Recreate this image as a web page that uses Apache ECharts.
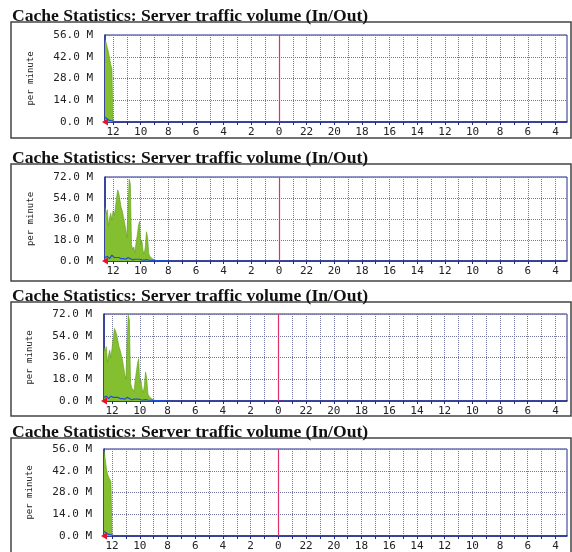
<!DOCTYPE html>
<html>
<head>
<meta charset="utf-8">
<script src="https://cdn.jsdelivr.net/npm/echarts@6/dist/echarts.min.js"></script>
<style>html,body{margin:0;padding:0;background:#fff}#c{width:572px;height:552px}</style>
</head>
<body>
<div id="c"></div>
<script>
// ---- data (values in M per minute, 5-minute samples, newest at left) ----
const titleText = 'Cache Statistics: Server traffic volume (In/Out)';
const yAxisName = 'per minute';
const yMax = [56, 72, 72, 56];
const yStep = [14, 18, 18, 14];
// time axis: left edge is 12:35, going back in time to 03:10 of previous day
const startHour = 36, startMinute = 35, endHour = 3, endMinute = 10, stepMinutes = 5;

const in1 = [53, 51, 48, 45, 41, 37, 34, 0];
const out1 = [3, 2, 2, 1.5, 1, 1, 0.8, 0.5, 0.4, 0.3, 0.2, 0];

const in2 = [46, 40, 44, 30, 37, 41, 35, 43, 39, 45, 54, 61, 58, 52, 46, 43, 38, 33, 27, 20,
             48, 70, 66, 14, 10, 12, 7, 16, 22, 30, 34, 14, 18, 9, 6, 12, 25, 20, 6, 4,
             3, 2, 1.5, 1, 0.8, 0];
const out2 = [3, 2, 4, 3, 2, 3, 5, 4, 3, 2, 3, 4, 3, 2, 2, 3, 2, 2, 1.5, 2,
              3, 2, 2, 1.5, 1, 1, 1.5, 2, 1.5, 1, 1.5, 1, 1, 1, 0.8, 1, 1.2, 1, 0.8, 0.6,
              0.6, 0.5, 0.5, 0.5, 0.4, 0.4, 0.3, 0.3, 0.3, 0.2, 0.2, 0.2, 0.1, 0.1, 0];

const in3 = [44, 41, 45, 32, 38, 42, 36, 44, 52, 60, 58, 55, 50, 45, 42, 38, 34, 28, 22, 18,
             50, 71, 67, 15, 11, 12, 8, 17, 24, 31, 35, 15, 17, 10, 7, 13, 24, 19, 6, 4,
             3, 2, 1.5, 1, 0.8, 0];
const out3 = [3, 2, 4, 3, 2, 3, 4, 4, 3, 2, 3, 4, 3, 2, 2, 3, 2, 2, 1.5, 2,
              3, 2, 2, 1.5, 1, 1, 1.5, 2, 1.5, 1, 1.5, 1, 1, 1, 0.8, 1, 1.2, 1, 0.8, 0.6,
              0.6, 0.5, 0.5, 0.5, 0.4, 0.4, 0.3, 0.3, 0.3, 0.2, 0.2, 0.2, 0.1, 0.1, 0];

const in4 = [55, 50, 44, 40, 38, 37, 35, 0];
const out4 = [3, 2, 2, 1.5, 1, 1, 0.8, 0.5, 0.4, 0.3, 0.2, 0];

const inSeries = [in1, in2, in3, in4];
const outSeries = [out1, out2, out3, out4];

// ---- build time categories ----
const categories = [];
for (let m = startHour * 60 + startMinute; m >= endHour * 60 + endMinute; m -= stepMinutes) {
  const h = Math.floor(m / 60), mm = m % 60;
  categories.push({ key: 'm' + m, hour: h % 24, minute: mm });
}
const catNames = categories.map(c => c.key);
const midnightIdx = categories.findIndex(c => c.hour === 0 && c.minute === 0);
const isHour = (i) => categories[i].minute === 0;
const isLabel = (i) => categories[i].minute === 0 && categories[i].hour % 2 === 0;

// ---- layout ----
const panels = [
  { top: 35, height: 87, left: 105, titleTop: 2, boxTop: 22, boxBottom: 138 },
  { top: 177, height: 84, left: 105, titleTop: 144, boxTop: 164, boxBottom: 281 },
  { top: 314, height: 87, left: 104, titleTop: 282, boxTop: 302, boxBottom: 416 },
  { top: 449, height: 87, left: 104, titleTop: 418, boxTop: 438, boxBottom: 560 }
];

const mono = 'DejaVu Sans Mono';
const navy = '#1e2a8c';
const green = '#84bf30';
const blue = '#1f4fd6';

const option = {
  animation: false,
  backgroundColor: '#ffffff',
  title: panels.map(p => ({
    text: titleText, left: 7, top: p.titleTop,
    textStyle: { fontFamily: 'Liberation Serif', fontWeight: 'bold', fontSize: 17.6, color: '#111' }
  })),
  graphic: panels.map(p => ({
    type: 'rect', silent: true,
    shape: { x: 11, y: p.boxTop, width: 560, height: p.boxBottom - p.boxTop },
    style: { fill: 'none', stroke: '#444', lineWidth: 1.5 }
  })),
  grid: panels.map(p => ({
    left: p.left, right: 5, top: p.top, height: p.height,
    show: true, borderColor: navy, borderWidth: 1, backgroundColor: '#fff'
  })),
  xAxis: panels.map((p, k) => ({
    type: 'category', gridIndex: k, data: catNames, boundaryGap: false,
    axisLine: { show: true, lineStyle: { color: navy, width: 1.5 } },
    axisTick: { show: true, inside: false, length: 3, interval: (i) => isHour(i), lineStyle: { color: navy } },
    axisLabel: {
      interval: (i) => isLabel(i),
      formatter: (v, i) => String(categories[i].hour),
      fontFamily: mono, fontSize: 11, color: '#222', margin: 5
    },
    splitLine: { show: true, interval: (i) => isHour(i), lineStyle: { color: '#7478a0', type: 'dotted', width: 1 } }
  })),
  yAxis: panels.map((p, k) => ({
    type: 'value', gridIndex: k, min: 0, max: yMax[k], interval: yStep[k],
    name: yAxisName, nameLocation: 'middle', nameRotate: 90, nameGap: 70,
    nameTextStyle: { fontFamily: mono, fontSize: 9, color: '#222' },
    axisLine: { show: true, lineStyle: { color: navy, width: 1.5 } },
    axisTick: { show: false },
    axisLabel: { formatter: v => v.toFixed(1) + ' M', fontFamily: mono, fontSize: 11, color: '#222', margin: 12 },
    splitLine: { show: true, lineStyle: { color: '#7478a0', type: 'dotted', width: 1 } }
  })),
  series: []
};

panels.forEach((p, k) => {
  option.series.push({
    type: 'line', xAxisIndex: k, yAxisIndex: k, data: inSeries[k],
    symbol: 'none', smooth: false,
    lineStyle: { color: '#5f9e1a', width: 0.6 },
    areaStyle: { color: green, opacity: 1 },
    markLine: {
      silent: true, symbol: 'none', label: { show: false },
      lineStyle: { color: '#e0306a', type: 'solid', width: 1.2 },
      data: [{ xAxis: midnightIdx }]
    },
    markPoint: {
      silent: true, symbol: 'triangle', symbolSize: [7, 6], symbolRotate: 90,
      itemStyle: { color: '#e8102a' }, label: { show: false },
      data: [{ coord: [0, 0] }]
    },
    z: 3
  });
  option.series.push({
    type: 'line', xAxisIndex: k, yAxisIndex: k, data: outSeries[k],
    symbol: 'none', lineStyle: { color: blue, width: 1.2 }, z: 4
  });
});

const chart = echarts.init(document.getElementById('c'), null, { renderer: 'canvas' });
chart.setOption(option);
</script>
</body>
</html>
